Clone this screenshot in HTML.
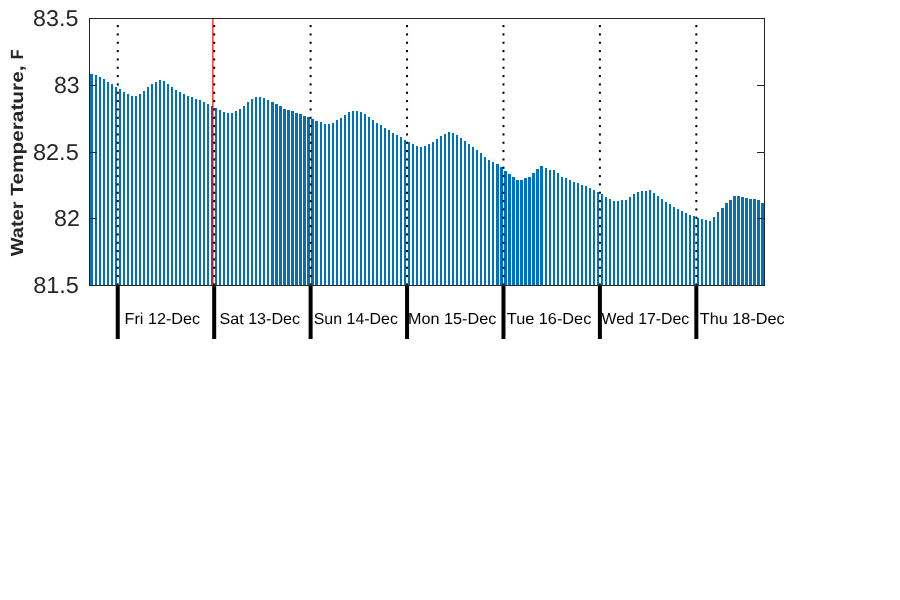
<!DOCTYPE html>
<html><head><meta charset="utf-8"><title>Water Temperature</title>
<style>
html,body{margin:0;padding:0;background:#fff;}
svg{display:block;will-change:transform;}
text{font-family:"Liberation Sans",sans-serif;text-rendering:geometricPrecision;}
</style></head>
<body>
<svg width="900" height="600" viewBox="0 0 900 600">
<rect width="900" height="600" fill="#fff"/>
<path d="M90 74h3V285h-3zM95 75h2V285h-2zM99 77h2V285h-2zM103 79h2V285h-2zM107 82h2V285h-2zM111 84h2V285h-2zM115 87h2V285h-2zM119 89h2V285h-2zM123 92h2V285h-2zM127 94h2V285h-2zM131 96h2V285h-2zM135 96h2V285h-2zM139 94h2V285h-2zM143 91h2V285h-2zM147 87h2V285h-2zM151 84h2V285h-2zM155 82h2V285h-2zM159 80h2V285h-2zM163 81h2V285h-2zM167 84h2V285h-2zM171 87h2V285h-2zM175 90h2V285h-2zM179 92h2V285h-2zM183 94h2V285h-2zM187 96h2V285h-2zM191 97h2V285h-2zM195 99h2V285h-2zM199 100h2V285h-2zM203 102h2V285h-2zM207 104h2V285h-2zM211 106h2V285h-2zM215 108h2V285h-2zM219 110h2V285h-2zM223 112h2V285h-2zM227 113h2V285h-2zM231 113h2V285h-2zM235 111h2V285h-2zM239 109h2V285h-2zM243 106h2V285h-2zM247 102h2V285h-2zM251 99h2V285h-2zM255 97h2V285h-2zM259 97h2V285h-2zM263 98h2V285h-2zM267 100h2V285h-2zM271 102h3V285h-3zM275 104h3V285h-3zM279 106h3V285h-3zM283 109h3V285h-3zM287 110h3V285h-3zM291 111h3V285h-3zM295 113h3V285h-3zM299 114h3V285h-3zM303 116h3V285h-3zM307 117h3V285h-3zM311 119h3V285h-3zM315 121h3V285h-3zM320 122h2V285h-2zM324 124h2V285h-2zM328 124h2V285h-2zM332 123h2V285h-2zM336 120h2V285h-2zM340 118h2V285h-2zM344 115h2V285h-2zM348 112h2V285h-2zM352 111h2V285h-2zM356 111h2V285h-2zM360 112h2V285h-2zM364 114h2V285h-2zM368 117h2V285h-2zM372 120h2V285h-2zM376 123h2V285h-2zM380 125h2V285h-2zM384 128h2V285h-2zM388 130h2V285h-2zM392 133h2V285h-2zM396 135h2V285h-2zM400 137h2V285h-2zM404 140h2V285h-2zM408 142h2V285h-2zM412 144h2V285h-2zM416 146h2V285h-2zM420 147h2V285h-2zM424 146h2V285h-2zM428 144h2V285h-2zM432 142h2V285h-2zM436 139h2V285h-2zM440 136h2V285h-2zM444 134h2V285h-2zM448 132h2V285h-2zM452 133h2V285h-2zM456 135h2V285h-2zM460 138h2V285h-2zM464 141h2V285h-2zM468 144h2V285h-2zM472 147h2V285h-2zM476 150h2V285h-2zM480 153h2V285h-2zM484 157h2V285h-2zM488 160h2V285h-2zM492 162h2V285h-2zM496 164h3V285h-3zM500 167h3V285h-3zM504 171h3V285h-3zM508 174h3V285h-3zM512 177h3V285h-3zM516 180h3V285h-3zM520 180h3V285h-3zM524 178h3V285h-3zM528 177h3V285h-3zM532 173h3V285h-3zM536 169h3V285h-3zM540 166h3V285h-3zM545 168h2V285h-2zM549 170h2V285h-2zM553 170h2V285h-2zM557 173h2V285h-2zM561 177h2V285h-2zM565 178h2V285h-2zM569 180h2V285h-2zM573 182h2V285h-2zM577 183h2V285h-2zM581 185h2V285h-2zM585 186h2V285h-2zM589 188h2V285h-2zM593 190h2V285h-2zM597 192h2V285h-2zM601 194h2V285h-2zM605 197h2V285h-2zM609 199h2V285h-2zM613 201h2V285h-2zM617 201h2V285h-2zM621 200h2V285h-2zM625 200h2V285h-2zM629 197h2V285h-2zM633 194h2V285h-2zM637 192h2V285h-2zM641 191h2V285h-2zM645 191h2V285h-2zM649 190h2V285h-2zM653 193h2V285h-2zM657 196h2V285h-2zM661 199h2V285h-2zM665 202h2V285h-2zM669 204h2V285h-2zM673 207h2V285h-2zM677 209h2V285h-2zM681 211h2V285h-2zM685 213h2V285h-2zM689 215h2V285h-2zM693 216h2V285h-2zM697 218h2V285h-2zM701 219h2V285h-2zM705 220h2V285h-2zM709 221h2V285h-2zM713 217h2V285h-2zM717 212h2V285h-2zM721 208h3V285h-3zM725 203h3V285h-3zM729 200h3V285h-3zM733 196h3V285h-3zM737 196h3V285h-3zM741 197h3V285h-3zM745 198h3V285h-3zM749 199h3V285h-3zM753 199h3V285h-3zM757 200h3V285h-3zM761 203h3V285h-3z" fill="#0072bd" shape-rendering="crispEdges"/>
<rect x="212.3" y="19" width="1.2" height="266" fill="#ff0000"/>
<g fill="#000"><rect x="116.75" y="25.05" width="2" height="2.1"/><rect x="116.75" y="33.38" width="2" height="2.1"/><rect x="116.75" y="41.72" width="2" height="2.1"/><rect x="116.75" y="50.05" width="2" height="2.1"/><rect x="116.75" y="58.38" width="2" height="2.1"/><rect x="116.75" y="66.72" width="2" height="2.1"/><rect x="116.75" y="75.05" width="2" height="2.1"/><rect x="116.75" y="83.38" width="2" height="2.1"/><rect x="116.75" y="91.72" width="2" height="2.1"/><rect x="116.75" y="100.05" width="2" height="2.1"/><rect x="116.75" y="108.38" width="2" height="2.1"/><rect x="116.75" y="116.72" width="2" height="2.1"/><rect x="116.75" y="125.05" width="2" height="2.1"/><rect x="116.75" y="133.38" width="2" height="2.1"/><rect x="116.75" y="141.72" width="2" height="2.1"/><rect x="116.75" y="150.05" width="2" height="2.1"/><rect x="116.75" y="158.38" width="2" height="2.1"/><rect x="116.75" y="166.72" width="2" height="2.1"/><rect x="116.75" y="175.05" width="2" height="2.1"/><rect x="116.75" y="183.38" width="2" height="2.1"/><rect x="116.75" y="191.72" width="2" height="2.1"/><rect x="116.75" y="200.05" width="2" height="2.1"/><rect x="116.75" y="208.38" width="2" height="2.1"/><rect x="116.75" y="216.72" width="2" height="2.1"/><rect x="116.75" y="225.05" width="2" height="2.1"/><rect x="116.75" y="233.38" width="2" height="2.1"/><rect x="116.75" y="241.72" width="2" height="2.1"/><rect x="116.75" y="250.05" width="2" height="2.1"/><rect x="116.75" y="258.38" width="2" height="2.1"/><rect x="116.75" y="266.72" width="2" height="2.1"/><rect x="116.75" y="275.05" width="2" height="2.1"/><rect x="116.75" y="283.38" width="2" height="2.1"/><rect x="213.18" y="25.05" width="2" height="2.1"/><rect x="213.18" y="33.38" width="2" height="2.1"/><rect x="213.18" y="41.72" width="2" height="2.1"/><rect x="213.18" y="50.05" width="2" height="2.1"/><rect x="213.18" y="58.38" width="2" height="2.1"/><rect x="213.18" y="66.72" width="2" height="2.1"/><rect x="213.18" y="75.05" width="2" height="2.1"/><rect x="213.18" y="83.38" width="2" height="2.1"/><rect x="213.18" y="91.72" width="2" height="2.1"/><rect x="213.18" y="100.05" width="2" height="2.1"/><rect x="213.18" y="108.38" width="2" height="2.1"/><rect x="213.18" y="116.72" width="2" height="2.1"/><rect x="213.18" y="125.05" width="2" height="2.1"/><rect x="213.18" y="133.38" width="2" height="2.1"/><rect x="213.18" y="141.72" width="2" height="2.1"/><rect x="213.18" y="150.05" width="2" height="2.1"/><rect x="213.18" y="158.38" width="2" height="2.1"/><rect x="213.18" y="166.72" width="2" height="2.1"/><rect x="213.18" y="175.05" width="2" height="2.1"/><rect x="213.18" y="183.38" width="2" height="2.1"/><rect x="213.18" y="191.72" width="2" height="2.1"/><rect x="213.18" y="200.05" width="2" height="2.1"/><rect x="213.18" y="208.38" width="2" height="2.1"/><rect x="213.18" y="216.72" width="2" height="2.1"/><rect x="213.18" y="225.05" width="2" height="2.1"/><rect x="213.18" y="233.38" width="2" height="2.1"/><rect x="213.18" y="241.72" width="2" height="2.1"/><rect x="213.18" y="250.05" width="2" height="2.1"/><rect x="213.18" y="258.38" width="2" height="2.1"/><rect x="213.18" y="266.72" width="2" height="2.1"/><rect x="213.18" y="275.05" width="2" height="2.1"/><rect x="213.18" y="283.38" width="2" height="2.1"/><rect x="309.61" y="25.05" width="2" height="2.1"/><rect x="309.61" y="33.38" width="2" height="2.1"/><rect x="309.61" y="41.72" width="2" height="2.1"/><rect x="309.61" y="50.05" width="2" height="2.1"/><rect x="309.61" y="58.38" width="2" height="2.1"/><rect x="309.61" y="66.72" width="2" height="2.1"/><rect x="309.61" y="75.05" width="2" height="2.1"/><rect x="309.61" y="83.38" width="2" height="2.1"/><rect x="309.61" y="91.72" width="2" height="2.1"/><rect x="309.61" y="100.05" width="2" height="2.1"/><rect x="309.61" y="108.38" width="2" height="2.1"/><rect x="309.61" y="116.72" width="2" height="2.1"/><rect x="309.61" y="125.05" width="2" height="2.1"/><rect x="309.61" y="133.38" width="2" height="2.1"/><rect x="309.61" y="141.72" width="2" height="2.1"/><rect x="309.61" y="150.05" width="2" height="2.1"/><rect x="309.61" y="158.38" width="2" height="2.1"/><rect x="309.61" y="166.72" width="2" height="2.1"/><rect x="309.61" y="175.05" width="2" height="2.1"/><rect x="309.61" y="183.38" width="2" height="2.1"/><rect x="309.61" y="191.72" width="2" height="2.1"/><rect x="309.61" y="200.05" width="2" height="2.1"/><rect x="309.61" y="208.38" width="2" height="2.1"/><rect x="309.61" y="216.72" width="2" height="2.1"/><rect x="309.61" y="225.05" width="2" height="2.1"/><rect x="309.61" y="233.38" width="2" height="2.1"/><rect x="309.61" y="241.72" width="2" height="2.1"/><rect x="309.61" y="250.05" width="2" height="2.1"/><rect x="309.61" y="258.38" width="2" height="2.1"/><rect x="309.61" y="266.72" width="2" height="2.1"/><rect x="309.61" y="275.05" width="2" height="2.1"/><rect x="309.61" y="283.38" width="2" height="2.1"/><rect x="406.04" y="25.05" width="2" height="2.1"/><rect x="406.04" y="33.38" width="2" height="2.1"/><rect x="406.04" y="41.72" width="2" height="2.1"/><rect x="406.04" y="50.05" width="2" height="2.1"/><rect x="406.04" y="58.38" width="2" height="2.1"/><rect x="406.04" y="66.72" width="2" height="2.1"/><rect x="406.04" y="75.05" width="2" height="2.1"/><rect x="406.04" y="83.38" width="2" height="2.1"/><rect x="406.04" y="91.72" width="2" height="2.1"/><rect x="406.04" y="100.05" width="2" height="2.1"/><rect x="406.04" y="108.38" width="2" height="2.1"/><rect x="406.04" y="116.72" width="2" height="2.1"/><rect x="406.04" y="125.05" width="2" height="2.1"/><rect x="406.04" y="133.38" width="2" height="2.1"/><rect x="406.04" y="141.72" width="2" height="2.1"/><rect x="406.04" y="150.05" width="2" height="2.1"/><rect x="406.04" y="158.38" width="2" height="2.1"/><rect x="406.04" y="166.72" width="2" height="2.1"/><rect x="406.04" y="175.05" width="2" height="2.1"/><rect x="406.04" y="183.38" width="2" height="2.1"/><rect x="406.04" y="191.72" width="2" height="2.1"/><rect x="406.04" y="200.05" width="2" height="2.1"/><rect x="406.04" y="208.38" width="2" height="2.1"/><rect x="406.04" y="216.72" width="2" height="2.1"/><rect x="406.04" y="225.05" width="2" height="2.1"/><rect x="406.04" y="233.38" width="2" height="2.1"/><rect x="406.04" y="241.72" width="2" height="2.1"/><rect x="406.04" y="250.05" width="2" height="2.1"/><rect x="406.04" y="258.38" width="2" height="2.1"/><rect x="406.04" y="266.72" width="2" height="2.1"/><rect x="406.04" y="275.05" width="2" height="2.1"/><rect x="406.04" y="283.38" width="2" height="2.1"/><rect x="502.46" y="25.05" width="2" height="2.1"/><rect x="502.46" y="33.38" width="2" height="2.1"/><rect x="502.46" y="41.72" width="2" height="2.1"/><rect x="502.46" y="50.05" width="2" height="2.1"/><rect x="502.46" y="58.38" width="2" height="2.1"/><rect x="502.46" y="66.72" width="2" height="2.1"/><rect x="502.46" y="75.05" width="2" height="2.1"/><rect x="502.46" y="83.38" width="2" height="2.1"/><rect x="502.46" y="91.72" width="2" height="2.1"/><rect x="502.46" y="100.05" width="2" height="2.1"/><rect x="502.46" y="108.38" width="2" height="2.1"/><rect x="502.46" y="116.72" width="2" height="2.1"/><rect x="502.46" y="125.05" width="2" height="2.1"/><rect x="502.46" y="133.38" width="2" height="2.1"/><rect x="502.46" y="141.72" width="2" height="2.1"/><rect x="502.46" y="150.05" width="2" height="2.1"/><rect x="502.46" y="158.38" width="2" height="2.1"/><rect x="502.46" y="166.72" width="2" height="2.1"/><rect x="502.46" y="175.05" width="2" height="2.1"/><rect x="502.46" y="183.38" width="2" height="2.1"/><rect x="502.46" y="191.72" width="2" height="2.1"/><rect x="502.46" y="200.05" width="2" height="2.1"/><rect x="502.46" y="208.38" width="2" height="2.1"/><rect x="502.46" y="216.72" width="2" height="2.1"/><rect x="502.46" y="225.05" width="2" height="2.1"/><rect x="502.46" y="233.38" width="2" height="2.1"/><rect x="502.46" y="241.72" width="2" height="2.1"/><rect x="502.46" y="250.05" width="2" height="2.1"/><rect x="502.46" y="258.38" width="2" height="2.1"/><rect x="502.46" y="266.72" width="2" height="2.1"/><rect x="502.46" y="275.05" width="2" height="2.1"/><rect x="502.46" y="283.38" width="2" height="2.1"/><rect x="598.89" y="25.05" width="2" height="2.1"/><rect x="598.89" y="33.38" width="2" height="2.1"/><rect x="598.89" y="41.72" width="2" height="2.1"/><rect x="598.89" y="50.05" width="2" height="2.1"/><rect x="598.89" y="58.38" width="2" height="2.1"/><rect x="598.89" y="66.72" width="2" height="2.1"/><rect x="598.89" y="75.05" width="2" height="2.1"/><rect x="598.89" y="83.38" width="2" height="2.1"/><rect x="598.89" y="91.72" width="2" height="2.1"/><rect x="598.89" y="100.05" width="2" height="2.1"/><rect x="598.89" y="108.38" width="2" height="2.1"/><rect x="598.89" y="116.72" width="2" height="2.1"/><rect x="598.89" y="125.05" width="2" height="2.1"/><rect x="598.89" y="133.38" width="2" height="2.1"/><rect x="598.89" y="141.72" width="2" height="2.1"/><rect x="598.89" y="150.05" width="2" height="2.1"/><rect x="598.89" y="158.38" width="2" height="2.1"/><rect x="598.89" y="166.72" width="2" height="2.1"/><rect x="598.89" y="175.05" width="2" height="2.1"/><rect x="598.89" y="183.38" width="2" height="2.1"/><rect x="598.89" y="191.72" width="2" height="2.1"/><rect x="598.89" y="200.05" width="2" height="2.1"/><rect x="598.89" y="208.38" width="2" height="2.1"/><rect x="598.89" y="216.72" width="2" height="2.1"/><rect x="598.89" y="225.05" width="2" height="2.1"/><rect x="598.89" y="233.38" width="2" height="2.1"/><rect x="598.89" y="241.72" width="2" height="2.1"/><rect x="598.89" y="250.05" width="2" height="2.1"/><rect x="598.89" y="258.38" width="2" height="2.1"/><rect x="598.89" y="266.72" width="2" height="2.1"/><rect x="598.89" y="275.05" width="2" height="2.1"/><rect x="598.89" y="283.38" width="2" height="2.1"/><rect x="695.32" y="25.05" width="2" height="2.1"/><rect x="695.32" y="33.38" width="2" height="2.1"/><rect x="695.32" y="41.72" width="2" height="2.1"/><rect x="695.32" y="50.05" width="2" height="2.1"/><rect x="695.32" y="58.38" width="2" height="2.1"/><rect x="695.32" y="66.72" width="2" height="2.1"/><rect x="695.32" y="75.05" width="2" height="2.1"/><rect x="695.32" y="83.38" width="2" height="2.1"/><rect x="695.32" y="91.72" width="2" height="2.1"/><rect x="695.32" y="100.05" width="2" height="2.1"/><rect x="695.32" y="108.38" width="2" height="2.1"/><rect x="695.32" y="116.72" width="2" height="2.1"/><rect x="695.32" y="125.05" width="2" height="2.1"/><rect x="695.32" y="133.38" width="2" height="2.1"/><rect x="695.32" y="141.72" width="2" height="2.1"/><rect x="695.32" y="150.05" width="2" height="2.1"/><rect x="695.32" y="158.38" width="2" height="2.1"/><rect x="695.32" y="166.72" width="2" height="2.1"/><rect x="695.32" y="175.05" width="2" height="2.1"/><rect x="695.32" y="183.38" width="2" height="2.1"/><rect x="695.32" y="191.72" width="2" height="2.1"/><rect x="695.32" y="200.05" width="2" height="2.1"/><rect x="695.32" y="208.38" width="2" height="2.1"/><rect x="695.32" y="216.72" width="2" height="2.1"/><rect x="695.32" y="225.05" width="2" height="2.1"/><rect x="695.32" y="233.38" width="2" height="2.1"/><rect x="695.32" y="241.72" width="2" height="2.1"/><rect x="695.32" y="250.05" width="2" height="2.1"/><rect x="695.32" y="258.38" width="2" height="2.1"/><rect x="695.32" y="266.72" width="2" height="2.1"/><rect x="695.32" y="275.05" width="2" height="2.1"/><rect x="695.32" y="283.38" width="2" height="2.1"/></g>
<g fill="#000"><rect x="115.75" y="285.5" width="4" height="53.5"/><rect x="212.18" y="285.5" width="4" height="53.5"/><rect x="308.61" y="285.5" width="4" height="53.5"/><rect x="405.04" y="285.5" width="4" height="53.5"/><rect x="501.46" y="285.5" width="4" height="53.5"/><rect x="597.89" y="285.5" width="4" height="53.5"/><rect x="694.32" y="285.5" width="4" height="53.5"/></g>
<g fill="#262626" shape-rendering="crispEdges">
<rect x="89" y="18" width="676" height="1"/>
<rect x="89" y="285" width="676" height="1"/>
<rect x="89" y="18" width="1" height="268"/>
<rect x="764" y="18" width="1" height="268"/>
<rect x="90" y="85" width="7" height="1"/><rect x="757" y="85" width="7" height="1"/><rect x="90" y="152" width="7" height="1"/><rect x="757" y="152" width="7" height="1"/><rect x="90" y="218" width="7" height="1"/><rect x="757" y="218" width="7" height="1"/>
</g>
<text transform="matrix(1.0570 0 0 1.0391 33.106 26.026)" font-size="22px" fill="#262626">83.5</text>
<text transform="matrix(1.0489 0 0 1.0516 53.971 92.863)" font-size="22px" fill="#262626">83</text>
<text transform="matrix(1.0698 0 0 1.0343 32.924 159.713)" font-size="22px" fill="#262626">82.5</text>
<text transform="matrix(1.0590 0 0 1.0412 53.971 226.214)" font-size="22px" fill="#262626">82</text>
<text transform="matrix(1.0699 0 0 1.0498 33.140 293.328)" font-size="22px" fill="#262626">81.5</text>
<text transform="matrix(1.0791 0 0 1.0567 124.507 323.560)" font-size="15px" fill="#000">Fri 12-Dec</text>
<text transform="matrix(1.0738 0 0 1.0567 219.511 323.560)" font-size="15px" fill="#000">Sat 13-Dec</text>
<text transform="matrix(1.0627 0 0 1.0567 313.740 323.560)" font-size="15px" fill="#000">Sun 14-Dec</text>
<text transform="matrix(1.0798 0 0 1.0567 408.054 323.560)" font-size="15px" fill="#000">Mon 15-Dec</text>
<text transform="matrix(1.0855 0 0 1.0567 506.836 323.560)" font-size="15px" fill="#000">Tue 16-Dec</text>
<text transform="matrix(1.0559 0 0 1.0567 601.549 323.560)" font-size="15px" fill="#000">Wed 17-Dec</text>
<text transform="matrix(1.0836 0 0 1.0567 699.786 323.560)" font-size="15px" fill="#000">Thu 18-Dec</text>
<text transform="matrix(0 -1.2103 1.0694 0 23.000 256.302)" font-size="16.5px" fill="#262626" font-weight="bold">Water</text>
<text transform="matrix(0 -1.2601 1.0694 0 23.000 195.688)" font-size="16.5px" fill="#262626" font-weight="bold">Temperature,</text>
<text transform="matrix(0 -0.9781 1.0694 0 23.000 59.227)" font-size="16.5px" fill="#262626" font-weight="bold">F</text>
</svg>
</body></html>
